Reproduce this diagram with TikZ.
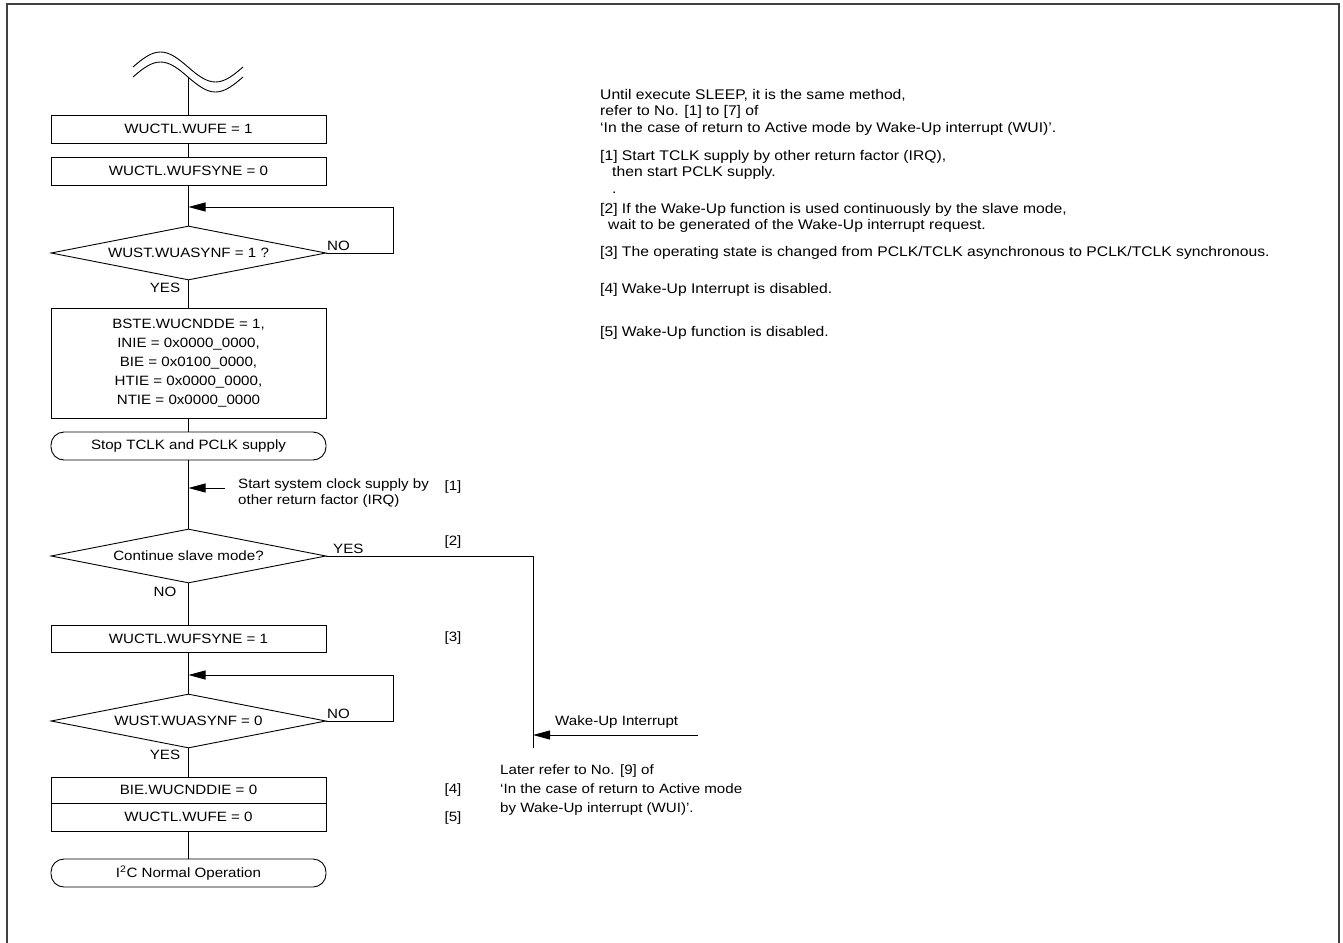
\documentclass[tikz,border=0pt]{standalone}
\usepackage{fontspec}
\setmainfont{Liberation Sans}[FakeStretch=1.12]
\usetikzlibrary{shapes.geometric,arrows.meta}
\begin{document}
\begin{tikzpicture}[x=1pt,y=-1pt,
  every node/.style={font=\fontsize{13.5}{16}\selectfont},
  box/.style={draw, line width=0.9pt, minimum width=275pt, minimum height=28pt, inner sep=0pt, align=center},
  term/.style={box, rounded corners=13pt},
  dec/.style={draw, line width=0.9pt, diamond, aspect=5, minimum width=275pt, minimum height=54pt, inner sep=0pt},
  flow/.style={line width=0.9pt},
  arr/.style={line width=0.9pt, -{Triangle[length=17pt,width=9pt]}},
  lbl/.style={inner sep=0pt},
  txt/.style={inner sep=0pt, anchor=west, align=left},
  note/.style={inner sep=0pt, anchor=north west, align=left, font=\fontsize{14}{16.5}\selectfont}
]
\useasboundingbox (0,0) rectangle (1343,942);
% frame
\draw[line width=2pt, black!75] (6.5,960) -- (6.5,4.5) -- (1338.5,4.5) -- (1338.5,960);

% wave
\draw[line width=0.9pt] (133,67) sin (160.5,52) cos (188,67) sin (215.5,82) cos (243,67);
\draw[line width=0.9pt] (133,77) sin (160.5,62) cos (188,77) sin (215.5,92) cos (243,77);
\coordinate (w) at (188.5,77);

% nodes
\node[box] (n1) at (188.5,129) {WUCTL.WUFE = 1};
\node[box] (n2) at (188.5,171) {WUCTL.WUFSYNE = 0};
\node[dec] (d1) at (188.5,253) {WUST.WUASYNF = 1 ?};
\node[box, minimum height=110pt, font=\fontsize{13.5}{19}\selectfont] (n3) at (188.5,363)
  {BSTE.WUCNDDE = 1,\\ INIE = 0x0000\_0000,\\ BIE = 0x0100\_0000,\\HTIE = 0x0000\_0000,\\NTIE = 0x0000\_0000};
\node[term] (t1) at (188.5,446) {Stop TCLK and PCLK supply};
\node[dec] (d2) at (188.5,556) {Continue slave mode?};
\node[box, minimum height=27pt] (n4) at (188.5,638.5) {WUCTL.WUFSYNE = 1};
\node[dec] (d3) at (188.5,721) {WUST.WUASYNF = 0};
\node[box, minimum height=26pt] (n5) at (188.5,790) {BIE.WUCNDDIE = 0};
\node[box, minimum height=28pt] (n6) at (188.5,817) {WUCTL.WUFE = 0};
\node[term] (t2) at (188.5,873) {I\textsuperscript{2}C Normal Operation};

% junction coordinates
\coordinate (j1) at (188.5,207);
\coordinate (l1) at (393,207);
\coordinate (j2) at (188.5,488);
\coordinate (s2) at (225,488);
\coordinate (y2) at (533,556);
\coordinate (y2e) at (533,748);
\coordinate (j3) at (188.5,675);
\coordinate (l3) at (393,675);
\coordinate (wi) at (698,735);
\coordinate (wj) at (533,735);

% connectors
\draw[flow] (w) -- (n1.north);
\draw[flow] (n1) -- (n2);
\draw[flow] (n2.south) -- (d1.north);
\draw[arr] (d1.east) -| (l1) -- (j1);
\draw[flow] (d1.south) -- (n3.north);
\draw[flow] (n3.south) -- (t1.north);
\draw[flow] (t1.south) -- (d2.north);
\draw[arr] (s2) -- (j2);
\draw[flow] (d2.east) -- (y2) -- (y2e);
\draw[arr] (wi) -- (wj);
\draw[flow] (d2.south) -- (n4.north);
\draw[flow] (n4.south) -- (d3.north);
\draw[arr] (d3.east) -| (l3) -- (j3);
\draw[flow] (d3.south) -- (n5.north);
\draw[flow] (n6.south) -- (t2.north);

% flow labels
\node[lbl, anchor=south west] (no1) at (327,251) {NO};
\node[lbl] (yes1) at (165,288) {YES};
\node[lbl, anchor=south west] (yes2) at (333,554) {YES};
\node[lbl] (no2) at (165,592) {NO};
\node[lbl, anchor=south west] (no3) at (327,719) {NO};
\node[lbl] (yes3) at (165,755) {YES};

\node[txt] (st) at (238,493) {Start system clock supply by\\other return factor (IRQ)};
\node[lbl] (r1) at (453,487) {[1]};
\node[lbl] (r2) at (453,542) {[2]};
\node[lbl] (r3) at (453,638) {[3]};
\node[lbl] (r4) at (453,790) {[4]};
\node[lbl] (r5) at (453,818) {[5]};
\node[txt, anchor=south west] (wu) at (555,728) {Wake-Up Interrupt};
\node[txt, anchor=north west, font=\fontsize{13.5}{19}\selectfont] (later) at (500,765) {Later refer to No. [9] of\\`In the case of return to Active mode\\by Wake-Up interrupt (WUI)'.};

% right notes
\node[note] (note0) at (600,89) {Until execute SLEEP, it is the same method,\\refer to No. [1] to [7] of\\`In the case of return to Active mode by Wake-Up interrupt (WUI)'.};
\node[note] (note1) at (600,150) {[1] Start TCLK supply by other return factor (IRQ),\\\hspace*{12pt}then start PCLK supply.\\\hspace*{12pt}.};
\node[note] (note2) at (600,203) {[2] If the Wake-Up function is used continuously by the slave mode,\\\hspace*{8pt}wait to be generated of the Wake-Up interrupt request.};
\node[note] (note3) at (600,246) {[3] The operating state is changed from PCLK/TCLK asynchronous to PCLK/TCLK synchronous.};
\node[note] (note4) at (600,283) {[4] Wake-Up Interrupt is disabled.};
\node[note] (note5) at (600,326) {[5] Wake-Up function is disabled.};
\end{tikzpicture}
\end{document}
